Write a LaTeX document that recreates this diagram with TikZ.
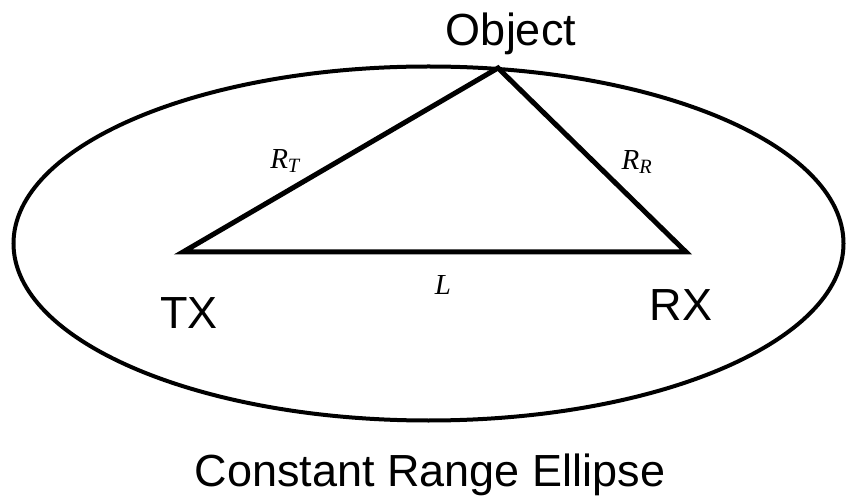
\documentclass[tikz,border=0pt]{standalone}
\usepackage{fontspec}
\setmainfont{Liberation Sans}
\newfontfamily\labelserif{Liberation Serif}
\begin{document}
\begin{tikzpicture}[x=1pt,y=-1pt,
  bigtext/.style={font=\fontsize{45}{50}\selectfont, inner sep=0pt, anchor=base},
  mathlabel/.style={font=\labelserif\itshape\fontsize{29}{32}\selectfont, inner sep=0pt},
  edge/.style={line width=5pt, line join=miter},
  rim/.style={line width=4pt}]
\useasboundingbox (0,0) rectangle (848,502);
\fill[white] (0,0) rectangle (848,502);
\coordinate (c) at (428.5,243.5);
\draw[rim] (c) ellipse [x radius=415pt, y radius=177pt];
\coordinate (tx) at (183,252);
\coordinate (rx) at (686,252);
\coordinate (obj) at (498,68);
\draw[edge] (tx) -- (obj) -- (rx) -- cycle;
\node[bigtext] (objl) at (511,46) {Object};
\node[bigtext] (txl) at (189,328) {TX};
\node[bigtext] (rxl) at (681,320) {RX};
\node[bigtext] (cre) at (430,486) {Constant Range Ellipse};
\node[mathlabel] (rt) at (285,161) {R\textsubscript{T}};
\node[mathlabel] (rr) at (637,162) {R\textsubscript{R}};
\node[mathlabel] (l) at (443,285) {L};
\end{tikzpicture}
\end{document}
